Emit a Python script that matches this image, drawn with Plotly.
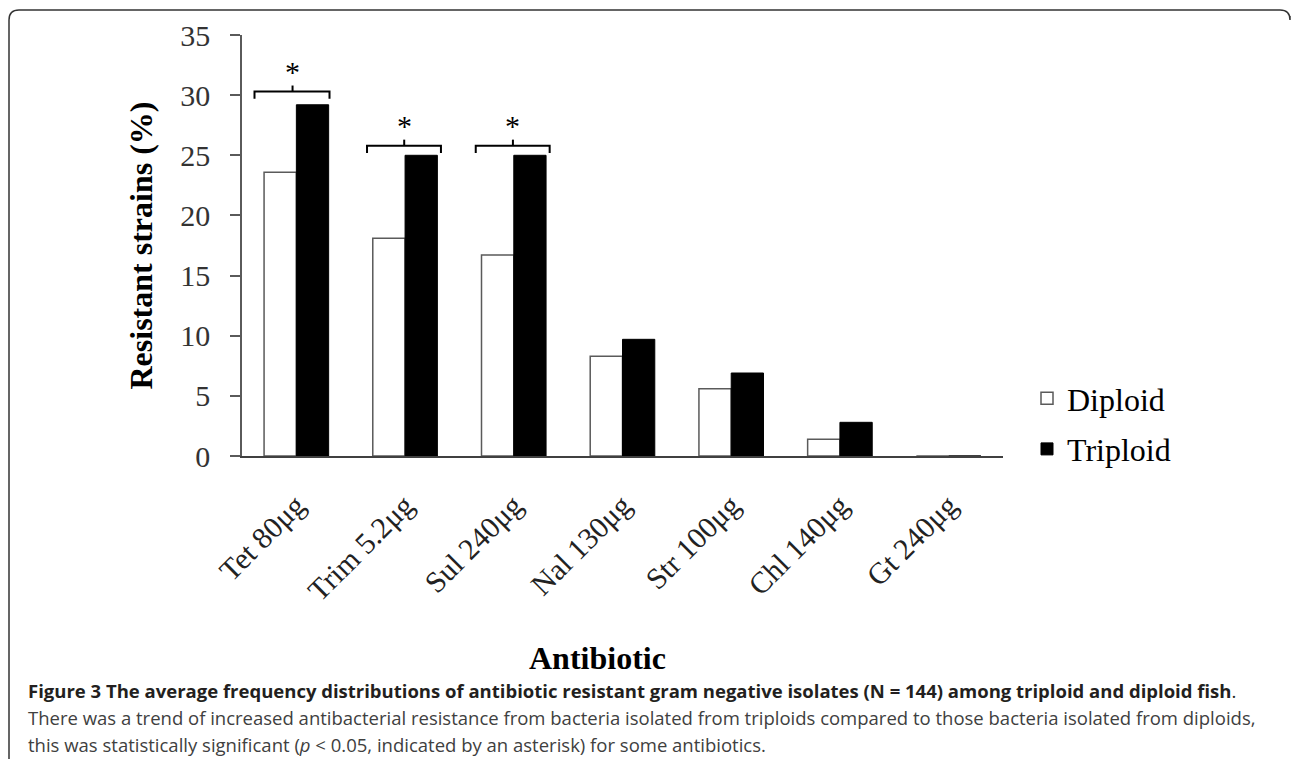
import plotly.graph_objects as go

# ---------------- data ----------------
antibiotics = ["Tet 80μg", "Trim 5.2μg", "Sul 240μg", "Nal 130μg", "Str 100μg", "Chl 140μg", "Gt 240μg"]
diploid = [23.6, 18.1, 16.7, 8.3, 5.6, 1.4, 0.0]
triploid = [29.2, 25.0, 25.0, 9.7, 6.9, 2.8, 0.0]
y_ticks = [0, 5, 10, 15, 20, 25, 30, 35]
significant = ["Tet 80μg", "Trim 5.2μg", "Sul 240μg"]
bracket_levels = [30.3, 25.8, 25.8]

caption_title = "Figure 3 The average frequency distributions of antibiotic resistant gram negative isolates (N = 144) among triploid and diploid fish"
caption_line2 = "There was a trend of increased antibacterial resistance from bacteria isolated from triploids compared to those bacteria isolated from diploids,"
caption_line3 = "this was statistically significant (<i>p</i> &lt; 0.05, indicated by an asterisk) for some antibiotics."

# ---------------- layout geometry (pixels) ----------------
W, H = 1292, 759
ML, MR, MT, MB = 242, 289, 35, 303
PW, PH = W - ML - MR, H - MT - MB


def px(x):
    return (x - ML) / PW


def py(y):
    return (H - MB - y) / PH


SERIF = "Liberation Serif, Times New Roman, serif"
SANS = "Open Sans, Noto Sans, sans-serif"
AXIS_GREY = "#5a5a5a"

fig = go.Figure()
fig.add_trace(go.Bar(
    name="Diploid", x=antibiotics, y=diploid,
    marker=dict(color="white", line=dict(color=AXIS_GREY, width=1.5)),
    legendgroup="d",
))
fig.add_trace(go.Bar(
    name="Triploid", x=antibiotics, y=triploid,
    marker=dict(color="black", line=dict(color="black", width=1)),
    legendgroup="t",
))

shapes = []
annotations = []
line_style = dict(color="black", width=2)
for name, lvl in zip(significant, bracket_levels):
    i = antibiotics.index(name)
    left, right, mid = (i - 0.385, i + 0.305, i - 0.035) if i == 0 else (i - 0.35, i + 0.33, i - 0.008)
    drop = 0.6
    rise = 0.5
    shapes.append(dict(type="path", xref="x", yref="y", line=line_style,
                       path=f"M {left},{lvl - drop} L {left},{lvl} L {right},{lvl} L {right},{lvl - drop}"))
    shapes.append(dict(type="line", xref="x", yref="y", line=line_style,
                       x0=mid, x1=mid, y0=lvl, y1=lvl + rise))
    annotations.append(dict(x=mid, y=lvl + 0.15, xref="x", yref="y", text="*",
                            showarrow=False, yanchor="bottom",
                            font=dict(family=SERIF, size=30, color="black")))

# frame around figure (rounded top corners, open right/bottom)
r = 10
frame = (f"M {px(9)},{py(H + 2)} L {px(9)},{py(10 + r)} "
         f"Q {px(9)},{py(10)} {px(9 + r)},{py(10)} "
         f"L {px(1290 - r)},{py(10)} "
         f"Q {px(1290)},{py(10)} {px(1290)},{py(10 + r)} L {px(1290)},{py(16)}")
shapes.append(dict(type="path", xref="paper", yref="paper", path=frame,
                   line=dict(color="#333333", width=1.5)))

# x axis title placed like the reference
annotations.append(dict(x=px(597), y=py(658), xref="paper", yref="paper", text="<b>Antibiotic</b>",
                        showarrow=False, xanchor="center", yanchor="middle",
                        font=dict(family=SERIF, size=32, color="black")))

# caption
CAP = 18.5
annotations.append(dict(x=px(26), y=py(690), xref="paper", yref="paper",
                        text=f"<b>{caption_title}</b>.", showarrow=False,
                        xanchor="left", yanchor="middle", align="left",
                        font=dict(family=SANS, size=CAP, color="#231f20")))
annotations.append(dict(x=px(26), y=py(718), xref="paper", yref="paper",
                        text=caption_line2, showarrow=False,
                        xanchor="left", yanchor="middle", align="left",
                        font=dict(family=SANS, size=CAP, color="#404040")))
annotations.append(dict(x=px(26), y=py(745), xref="paper", yref="paper",
                        text=caption_line3, showarrow=False,
                        xanchor="left", yanchor="middle", align="left",
                        font=dict(family=SANS, size=CAP, color="#404040")))

fig.update_layout(
    width=W, height=H,
    margin=dict(l=ML, r=MR, t=MT, b=MB, autoexpand=False),
    paper_bgcolor="white", plot_bgcolor="white",
    barmode="group", bargap=0.406, bargroupgap=0,
    showlegend=True,
    legend=dict(x=px(1027), y=py(424), xanchor="left", yanchor="middle",
                font=dict(family=SERIF, size=32, color="black"),
                bgcolor="rgba(0,0,0,0)", tracegroupgap=6, itemwidth=30),
    shapes=shapes,
    annotations=annotations,
    xaxis=dict(
        type="category", showline=True, linecolor="#404040", linewidth=1.5,
        ticks="", tickangle=-45, ticklabelstandoff=18,
        tickfont=dict(family=SERIF, size=30, color="#222"),
        showgrid=False, zeroline=False, fixedrange=True,
    ),
    yaxis=dict(
        range=[0, 35], tickvals=y_ticks, showline=True, linecolor=AXIS_GREY, linewidth=1.5,
        ticks="outside", ticklen=10, tickwidth=1.5, tickcolor=AXIS_GREY, ticklabelstandoff=14,
        tickfont=dict(family=SERIF, size=30, color="#333"),
        showgrid=False, zeroline=False,
        title=dict(text="<b>Resistant strains (%)</b>", standoff=18,
                   font=dict(family=SERIF, size=32, color="black")),
    ),
)

fig.write_html("out.html", config={"displayModeBar": False},
               post_script="document.body.style.margin='0';document.body.style.overflow='hidden';")
